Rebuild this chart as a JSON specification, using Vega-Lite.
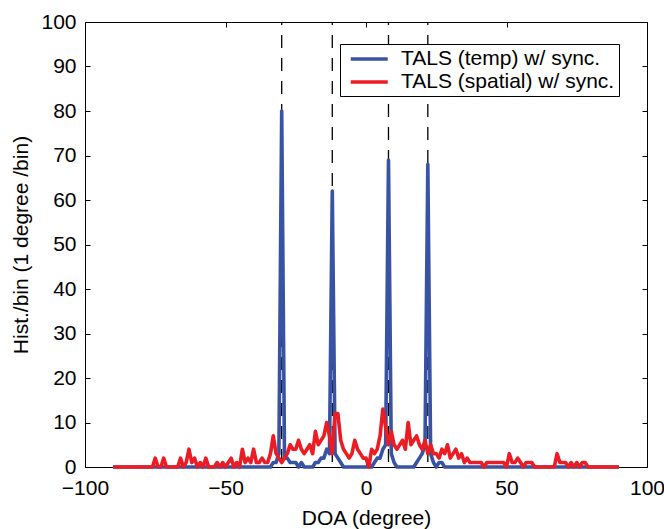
{
  "$schema": "https://vega.github.io/schema/vega-lite/v6.json",
  "width": 562,
  "height": 445,
  "autosize": "none",
  "padding": {"left": 85, "top": 22, "right": 17, "bottom": 62},
  "background": "white",
  "config": {
    "view": {"stroke": "black", "strokeWidth": 1},
    "font": "Liberation Sans",
    "axis": {
      "labelFont": "Liberation Sans", "labelFontSize": 21, "labelColor": "black",
      "titleFont": "Liberation Sans", "titleFontSize": 21, "titleFontWeight": "normal", "titleColor": "black",
      "tickColor": "black", "tickSize": -5, "tickWidth": 1, "grid": false, "domain": false, "labelFlush": false
    }
  },
  "datasets": {
    "doa": [{"d": -30}, {"d": -12}, {"d": 8}, {"d": 22}],
    "hist": [
      {"d":-90,"t":0,"s":0},{"d":-89,"t":0,"s":0},{"d":-88,"t":0,"s":0},{"d":-87,"t":0,"s":0},{"d":-86,"t":0,"s":0},
      {"d":-85,"t":0,"s":0},{"d":-84,"t":0,"s":0},{"d":-83,"t":0,"s":0},{"d":-82,"t":0,"s":0},{"d":-81,"t":0,"s":0},
      {"d":-80,"t":0,"s":0},{"d":-79,"t":0,"s":0},{"d":-78,"t":0,"s":0},{"d":-77,"t":0,"s":0},{"d":-76,"t":0,"s":0},
      {"d":-75,"t":0,"s":2},{"d":-74,"t":0,"s":0},{"d":-73,"t":0,"s":0},{"d":-72,"t":0,"s":2},{"d":-71,"t":0,"s":0},
      {"d":-70,"t":0,"s":0},{"d":-69,"t":0,"s":0},{"d":-68,"t":0,"s":0},{"d":-67,"t":0,"s":0},{"d":-66,"t":0,"s":2},
      {"d":-65,"t":0,"s":0},{"d":-64,"t":0,"s":1},{"d":-63,"t":0,"s":4},{"d":-62,"t":0,"s":1},{"d":-61,"t":0,"s":2},
      {"d":-60,"t":0,"s":0},{"d":-59,"t":0,"s":1},{"d":-58,"t":0,"s":0},{"d":-57,"t":0,"s":2},{"d":-56,"t":0,"s":0},
      {"d":-55,"t":0,"s":0},{"d":-54,"t":0,"s":0},{"d":-53,"t":0,"s":1},{"d":-52,"t":0,"s":0},{"d":-51,"t":0,"s":1},
      {"d":-50,"t":0,"s":0},{"d":-49,"t":0,"s":1},{"d":-48,"t":0,"s":2},{"d":-47,"t":0,"s":0},{"d":-46,"t":0,"s":1},
      {"d":-45,"t":0,"s":0},{"d":-44,"t":0,"s":4},{"d":-43,"t":0,"s":1},{"d":-42,"t":0,"s":2},{"d":-41,"t":0,"s":1},
      {"d":-40,"t":0,"s":4},{"d":-39,"t":0,"s":1},{"d":-38,"t":0,"s":1},{"d":-37,"t":0,"s":2},{"d":-36,"t":0,"s":1},
      {"d":-35,"t":0,"s":1},{"d":-34,"t":0,"s":3},{"d":-33,"t":1,"s":7},{"d":-32,"t":1,"s":3},{"d":-31,"t":3,"s":2},
      {"d":-30,"t":80,"s":1},{"d":-29,"t":2,"s":2},{"d":-28,"t":2,"s":3},{"d":-27,"t":1,"s":5},{"d":-26,"t":1,"s":4},
      {"d":-25,"t":1,"s":4},{"d":-24,"t":0,"s":6},{"d":-23,"t":1,"s":4},{"d":-22,"t":0,"s":3},{"d":-21,"t":0,"s":4},
      {"d":-20,"t":0,"s":5},{"d":-19,"t":0,"s":3},{"d":-18,"t":1,"s":8},{"d":-17,"t":1,"s":5},{"d":-16,"t":2,"s":6},
      {"d":-15,"t":2,"s":7},{"d":-14,"t":4,"s":10},{"d":-13,"t":3,"s":7},{"d":-12,"t":62,"s":3},{"d":-11,"t":3,"s":12},
      {"d":-10,"t":2,"s":12},{"d":-9,"t":1,"s":6},{"d":-8,"t":0,"s":4},{"d":-7,"t":0,"s":3},{"d":-6,"t":0,"s":2},
      {"d":-5,"t":0,"s":3},{"d":-4,"t":0,"s":6},{"d":-3,"t":0,"s":4},{"d":-2,"t":0,"s":3},{"d":-1,"t":0,"s":2},
      {"d":0,"t":0,"s":2},{"d":1,"t":0,"s":0},{"d":2,"t":0,"s":4},{"d":3,"t":1,"s":3},{"d":4,"t":2,"s":4},
      {"d":5,"t":2,"s":7},{"d":6,"t":4,"s":13},{"d":7,"t":5,"s":9},{"d":8,"t":69,"s":5},{"d":9,"t":3,"s":8},
      {"d":10,"t":1,"s":5},{"d":11,"t":0,"s":4},{"d":12,"t":0,"s":5},{"d":13,"t":0,"s":6},{"d":14,"t":0,"s":4},
      {"d":15,"t":0,"s":10},{"d":16,"t":0,"s":5},{"d":17,"t":0,"s":6},{"d":18,"t":1,"s":7},{"d":19,"t":2,"s":5},
      {"d":20,"t":3,"s":4},{"d":21,"t":5,"s":6},{"d":22,"t":68,"s":3},{"d":23,"t":3,"s":5},{"d":24,"t":1,"s":3},
      {"d":25,"t":0,"s":3},{"d":26,"t":1,"s":2},{"d":27,"t":1,"s":4},{"d":28,"t":0,"s":3},{"d":29,"t":0,"s":5},
      {"d":30,"t":0,"s":2},{"d":31,"t":0,"s":3},{"d":32,"t":0,"s":4},{"d":33,"t":0,"s":2},{"d":34,"t":0,"s":3},
      {"d":35,"t":0,"s":1},{"d":36,"t":0,"s":2},{"d":37,"t":0,"s":1},{"d":38,"t":0,"s":1},{"d":39,"t":0,"s":1},
      {"d":40,"t":0,"s":1},{"d":41,"t":0,"s":1},{"d":42,"t":0,"s":0},{"d":43,"t":0,"s":1},{"d":44,"t":0,"s":1},
      {"d":45,"t":0,"s":1},{"d":46,"t":0,"s":1},{"d":47,"t":0,"s":1},{"d":48,"t":0,"s":1},{"d":49,"t":0,"s":1},
      {"d":50,"t":0,"s":0},{"d":51,"t":0,"s":3},{"d":52,"t":0,"s":1},{"d":53,"t":0,"s":1},{"d":54,"t":0,"s":2},
      {"d":55,"t":0,"s":1},{"d":56,"t":0,"s":0},{"d":57,"t":0,"s":1},{"d":58,"t":0,"s":1},{"d":59,"t":0,"s":1},
      {"d":60,"t":0,"s":0},{"d":61,"t":0,"s":0},{"d":62,"t":0,"s":0},{"d":63,"t":0,"s":0},{"d":64,"t":0,"s":0},
      {"d":65,"t":0,"s":0},{"d":66,"t":0,"s":0},{"d":67,"t":0,"s":0},{"d":68,"t":0,"s":3},{"d":69,"t":0,"s":1},
      {"d":70,"t":0,"s":1},{"d":71,"t":0,"s":1},{"d":72,"t":0,"s":0},{"d":73,"t":0,"s":1},{"d":74,"t":0,"s":0},
      {"d":75,"t":0,"s":1},{"d":76,"t":0,"s":0},{"d":77,"t":0,"s":1},{"d":78,"t":0,"s":1},{"d":79,"t":0,"s":0},
      {"d":80,"t":0,"s":0},{"d":81,"t":0,"s":0},{"d":82,"t":0,"s":0},{"d":83,"t":0,"s":0},{"d":84,"t":0,"s":0},
      {"d":85,"t":0,"s":0},{"d":86,"t":0,"s":0},{"d":87,"t":0,"s":0},{"d":88,"t":0,"s":0},{"d":89,"t":0,"s":0},
      {"d":90,"t":0,"s":0}
    ]
  },
  "resolve": {"axis": {"x": "independent", "y": "independent"}},
  "layer": [
    {
      "data": {"name": "doa"},
      "mark": {"type": "rule", "color": "black", "strokeWidth": 1.3, "strokeDash": [13, 10], "strokeDashOffset": 18},
      "encoding": {
        "x": {"field": "d", "type": "quantitative", "scale": {"domain": [-100, 100], "nice": false},
              "axis": {"orient": "bottom", "values": [-100, -50, 0, 50, 100], "title": "DOA (degree)", "labelPadding": 15, "titlePadding": 9}},
        "y": {"datum": 0, "type": "quantitative", "scale": {"domain": [0, 100], "nice": false},
              "axis": {"orient": "left", "values": [0, 10, 20, 30, 40, 50, 60, 70, 80, 90, 100], "title": "Hist./bin (1 degree /bin)", "labelPadding": 14, "titlePadding": 9}},
        "y2": {"datum": 100}
      }
    },
    {
      "data": {"name": "hist"},
      "transform": [{"fold": ["t", "s"], "as": ["method", "count"]}],
      "mark": {"type": "line", "strokeWidth": 3.6, "strokeJoin": "round", "strokeCap": "butt"},
      "encoding": {
        "x": {"field": "d", "type": "quantitative",
              "axis": {"orient": "top", "values": [-100, -50, 0, 50, 100], "labels": false, "title": null}},
        "y": {"field": "count", "type": "quantitative",
              "axis": {"orient": "right", "values": [0, 10, 20, 30, 40, 50, 60, 70, 80, 90, 100], "labels": false, "title": null}},
        "color": {"field": "method", "type": "nominal",
                  "scale": {"domain": ["t", "s"], "range": ["#3953a4", "#ec1c24"]},
                  "legend": {"orient": "none", "legendX": 255, "legendY": 22, "title": null,
                             "symbolType": "M-1,0H3", "symbolSize": 342, "symbolStrokeWidth": 3.5, "symbolOffset": 5,
                             "labelFont": "Liberation Sans", "labelFontSize": 21, "labelColor": "black",
                             "labelOffset": 30, "labelLimit": 0, "rowPadding": 2, "padding": 4,
                             "strokeColor": "black", "fillColor": "white",
                             "labelExpr": "datum.label == 't' ? 'TALS (temp) w/ sync.\u00a0' : 'TALS (spatial) w/ sync.\u00a0'"}}
      }
    }
  ]
}
